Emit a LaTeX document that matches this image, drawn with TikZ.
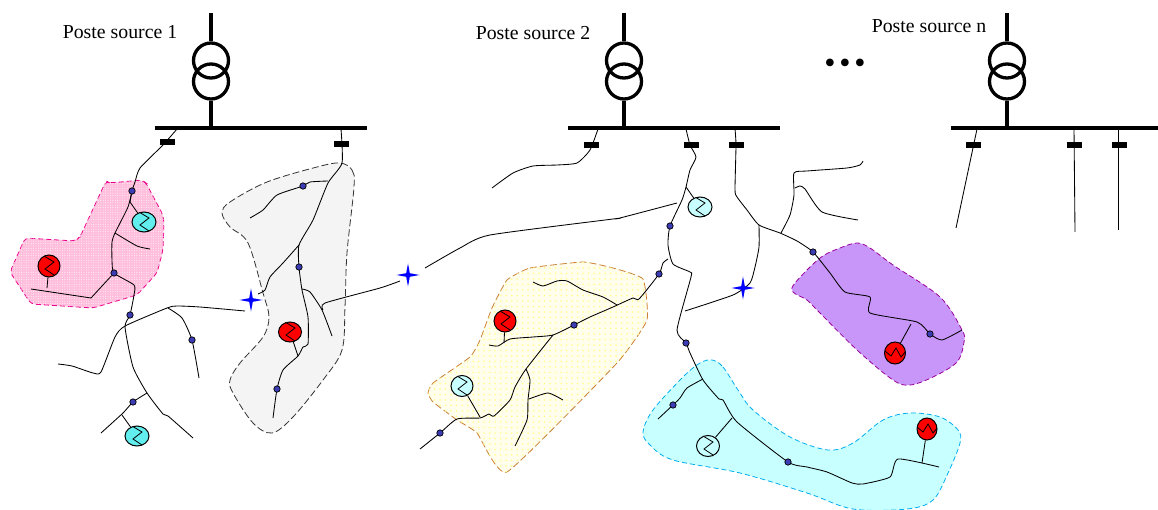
\documentclass[tikz,border=0pt]{standalone}
\usepackage{fontspec}
\setmainfont{Liberation Serif}
\usetikzlibrary{shapes.geometric,patterns.meta}
\pgfdeclarelayer{zones}
\pgfdeclarelayer{lines}
\pgfsetlayers{zones,lines,main}
\definecolor{pinkzone}{HTML}{FFBEDC}
\definecolor{ivoryzone}{HTML}{FFFDEC}
\definecolor{greyzone}{HTML}{F4F4F4}
\definecolor{mauvezone}{HTML}{C896F8}
\definecolor{cyanzone}{HTML}{C8FFFF}
\definecolor{gencyan}{HTML}{62EEEE}
\definecolor{nodeblue}{HTML}{3C3CB4}
\tikzset{
  feeder/.style={line width=.85pt, smooth, tension=.35},
  hv/.style={line width=3.3pt},
  coil/.style={circle, draw, line width=3.3pt, minimum size=35pt, inner sep=0pt},
  busbar/.style={fill=black, minimum height=3.8pt, inner sep=0pt},
  brk/.style={fill=black, minimum width=15pt, minimum height=6pt, inner sep=0pt},
  junction/.style={circle, draw, line width=.7pt, fill=nodeblue, minimum size=6.4pt, inner sep=0pt},
  gen/.style={ellipse, draw, line width=1pt, inner sep=0pt},
  zig/.style={path picture={\draw[line width=.8pt, shift={(path picture bounding box.center)}]
    (-5,-10) -- (5,-4) -- (-4,3) -- (5,9);}},
  wave/.style={path picture={\draw[line width=.8pt, shift={(path picture bounding box.center)}]
    (-10,-2) -- (-4,3) -- (1,-5) -- (6,4) -- (11,-2);}},
  fault/.style={star, star points=4, star point ratio=4.5, fill=blue, minimum size=23pt, inner sep=0pt},
  label/.style={font=\fontsize{19.8}{22}\selectfont, inner sep=0pt},
  zone/.style={line width=.8pt, dash pattern=on 5pt off 3pt, smooth cycle, tension=.55}
}
\begin{document}
\begin{tikzpicture}[x=1pt,y=-1pt]
    \useasboundingbox (0,0) rectangle (1158,510);
    \foreach \n/\x/\c/\w in {1/211/261/212,2/624/674/212,3/1007/1054.5/207} {
      \node[busbar, minimum width=\w pt] (bus\n) at (\c,128) {};
      \node[coil] (top\n) at (\x,60.5) {};
      \node[coil] (bot\n) at (\x,81.5) {};
      \coordinate (in\n) at (\x,13);
      \draw[hv] (in\n) -- (top\n);
      \draw[hv] (bot\n) -- (bot\n |- bus\n.north);
    }
    \node[label] (post1) at (120,32) {Poste source 1};
    \node[label] (post2) at (533,33) {Poste source 2};
    \node[label] (post3) at (929,26) {Poste source n};
    \node[font=\fontsize{32}{32}\selectfont, inner sep=0pt] (dots) at (845,66) {•\hspace{3.8pt}•\hspace{3.8pt}•};
    \foreach \n/\x/\y in {b1/167/142,b2/341/144,b3/591/145,b4/691/145,b5/736/145,b6/973/145,b7/1074/145,b8/1119/145}
      \node[brk] (\n) at (\x,\y) {};
    \foreach \n/\x/\y in {j1/132/191,j2/114/273,j3/130/315,j4/192/340,j5/133/402,j6/303/186,j7/299/267,j8/277/389,
      j9/670/226,j10/659/274,j11/574/325,j12/440/433,j13/686/343,j14/673/405,j15/788/462,j16/813/252,j17/930/334}
      \node[junction] (\n) at (\x,\y) {};
    \foreach \n/\x/\y/\c/\w/\h in {g1/49/266/red/22/22,g2/144/222/gencyan/24/20,g3/137/436/gencyan/24/20,g4/290/332/red/23/20,
      g5/505/321/red/22/22,g6/462/386/cyanzone/22/21,g7/700/207/cyanzone/24/20,g9/708/446/cyanzone/23/21}
      \node[gen, zig, fill=\c, minimum width=\w pt, minimum height=\h pt] (\n) at (\x,\y) {};
    \node[gen, wave, fill=red, minimum width=21pt, minimum height=22pt] (g8) at (895,353) {};
    \node[gen, wave, fill=red, minimum width=20pt, minimum height=22pt] (g10) at (927,429) {};
    \node[fault] (f1) at (251,300) {};
    \node[fault] (f2) at (408,275) {};
    \node[fault] (f3) at (743,288) {};
    \begin{pgfonlayer}{zones}
      \draw[line width=.8pt, dash pattern=on 5pt off 3pt, magenta, fill=pinkzone, rounded corners=4pt,
        postaction={pattern={Dots[distance=2.4pt,radius=.45pt]}, pattern color=white}]
        (106,181) -- (110,183) -- (142,180) -- (146,183) -- (163,215) -- (164,223) -- (163,250) -- (157,273) -- (137,295)
        -- (93,308) -- (31,304) -- (10,272) -- (25,238) -- (75,241) -- (80,237) -- cycle;
      \draw[zone, black!80, fill=greyzone, dash pattern=on 7pt off 3pt] plot coordinates {(340,163) (352,170) (354,187) (347,253) (345,307) (342,350)
        (323,380) (293,417) (272,433) (253,423) (233,393) (230,380) (240,363) (263,337) (269,317) (263,293) (248,243)
        (230,227) (222,213) (230,202) (267,182) (317,167)};
      \draw[zone, brown!80!orange, fill=ivoryzone, dash pattern=on 7pt off 3pt,
        postaction={pattern={Dots[distance=5.5pt,radius=1pt]}, pattern color=yellow!40}] plot[tension=.25] coordinates {(507,280) (530,268) (583,262) (613,268)
        (643,279) (647,320) (617,363) (507,472) (477,433) (457,420) (433,402) (428,393) (433,383) (470,357) (480,340) (492,308)};
      \draw[zone, violet!80!magenta, fill=mauvezone] plot coordinates {(857,243) (870,248) (893,265) (940,297) (962,330) (964,342) (957,362) (933,377)
        (910,385) (893,380) (857,350) (817,310) (807,300) (793,292) (795,283) (820,258) (840,248)};
      \draw[zone, cyan, fill=cyanzone] plot coordinates {(712,360) (723,367) (738,390) (753,410) (790,437) (828,450) (853,443) (883,420) (910,413) (940,417)
        (958,430) (960,443) (948,473) (933,500) (907,509) (853,509) (807,493) (740,473) (673,460) (650,445) (643,432)
        (653,410) (683,377) (700,363)};
    \end{pgfonlayer}
    \begin{pgfonlayer}{lines}
      \draw[feeder] plot coordinates {(177,129) (163,145) (140,168) (135,182) (j1) (128,207) (115,233) (112,242) (112,260) (j2)
        (134,285) (134,295) (j3) (125,327) (133,367) (147,393) (163,414) (168,416) (193,438)};
      \draw[feeder] (j1) -- (130,202) -- (g2);
      \draw[feeder] plot coordinates {(115,233) (137,246) (150,249)};
      \draw[feeder] (j2) -- (91,298) -- (31,289);
      \draw[feeder] (g1) -- (47,288);
      \draw[feeder] plot coordinates {(58,364) (72,366) (93,373) (101,372) (115,337) (125,326) (167,308) (177,306) (200,307) (245,311)};
      \draw[feeder] plot coordinates {(168,308) (182,318) (j4) (199,378)};
      \draw[feeder] plot coordinates {(147,393) (j5) (123,413) (101,433)};
      \draw[feeder] (122,415) -- (g3);
      \draw[feeder] plot coordinates {(341,129) (342,163) (328,183) (313,220) (299,245) (j7) (302,290) (308,317) (308,344) (303,347)
        (298,356) (283,370) (j8) (273,418)};
      \draw[feeder] plot coordinates {(328,181) (310,182) (j6) (277,195) (263,210) (250,218)};
      \draw[feeder] plot coordinates {(299,245) (283,263) (270,277) (265,290) (258,294)};
      \draw[feeder] plot coordinates {(302,289) (310,292) (322,310) (332,336)};
      \draw[feeder] plot coordinates {(323,310) (325,303) (380,288) (400,281)};
      \draw[feeder] (g4) -- (298,356);
      \draw[feeder] plot coordinates {(598,129) (590,150) (577,163) (557,165) (533,166) (513,173) (492,188)};
      \draw[feeder] plot coordinates {(686,129) (690,145) (696,157) (690,170) (686,187) (682,200) (j9) (668,245) (673,264) (690,272)
        (691,277) (677,330) (j13) (690,353) (703,380) (719,399) (723,400) (737,422) (j15) (807,467) (827,472) (852,483)
        (863,484) (890,477) (898,459) (939,467)};
      \draw[feeder] (686,187) -- (g7);
      \draw[feeder] plot coordinates {(677,203) (620,218) (613,219) (490,235) (460,248) (425,268)};
      \draw[feeder] plot coordinates {(668,259) (663,263) (j10) (639,299) (633,298) (613,307) (590,317) (j11) (553,335) (533,337)
        (510,339) (498,346) (489,345)};
      \draw[feeder] plot coordinates {(617,305) (603,297) (583,290) (567,281) (557,281) (543,286) (533,282)};
      \draw[feeder] (g5) -- (504,343);
      \draw[feeder] plot coordinates {(553,335) (526,369) (515,387) (510,400) (494,416) (489,414) (480,418) (457,419) (j12) (420,449)};
      \draw[feeder] plot coordinates {(526,369) (530,380) (528,400) (527,420) (515,446)};
      \draw[feeder] plot coordinates {(529,399) (548,393) (563,400)};
      \draw[feeder] (g6) -- (480,417);
      \draw[feeder] plot coordinates {(735,129) (736,145) (735,190) (737,197) (747,210) (759,225) (780,233) (797,241) (j16) (830,273)
        (845,292) (870,297) (870,313) (917,322) (j17) (942,340) (962,330)};
      \draw[feeder] (911,324) -- (g8);
      \draw[feeder] plot coordinates {(759,225) (759,247) (755,267) (750,283) (733,295) (685,311)};
      \draw[feeder] plot coordinates {(781,233) (790,215) (794,195) (794,173) (807,171) (847,168) (860,165) (863,161)};
      \draw[feeder] plot coordinates {(795,188) (800,186) (805,189) (822,212) (858,220)};
      \draw[feeder] plot coordinates {(703,379) (687,388) (680,398) (j14) (658,419)};
      \draw[feeder] (732,418) -- (g9);
      \draw[feeder] (g10) -- (922,463);
      \draw[feeder] (977,129) -- (956,228);
      \draw[feeder] (1074,129) -- (1075,232);
      \draw[feeder] (1118,129) -- (1118,230);
    \end{pgfonlayer}
  \end{tikzpicture}
\end{document}
